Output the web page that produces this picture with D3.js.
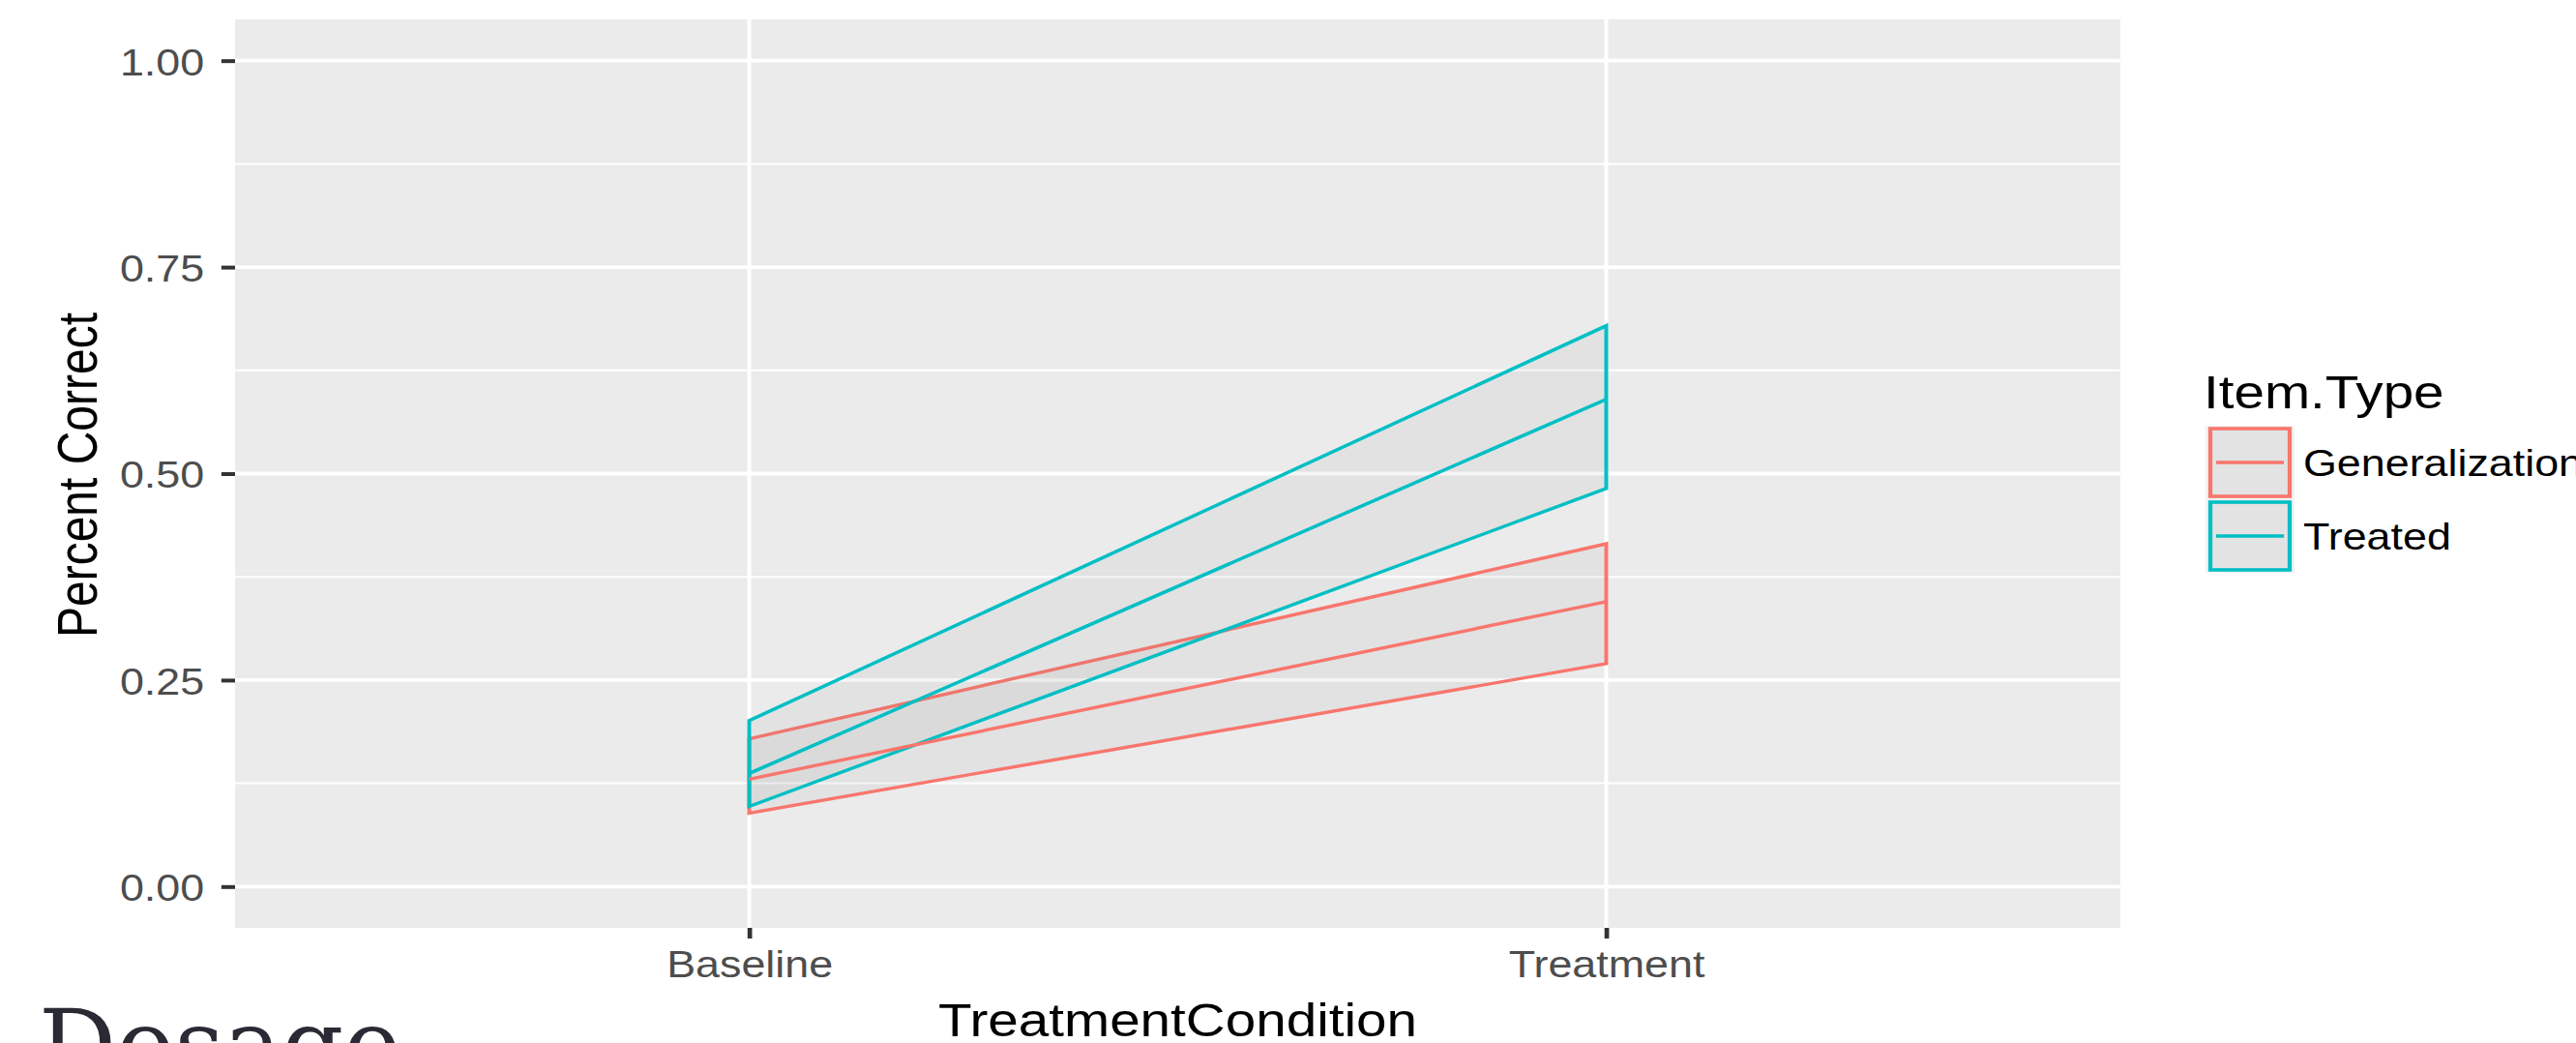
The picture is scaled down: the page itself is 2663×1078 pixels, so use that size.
<!DOCTYPE html>
<head>
  <meta charset="utf-8">
<style>
body{
  margin: 0;
  background-color: white;
}
text{
  font-family: "Liberation Sans", Arial, sans-serif;
}
</style>
</head>
<body>
</body>

<script src="https://d3js.org/d3.v7.min.js"></script>
<script>

// data
var conditions = ["Baseline", "Treatment"];
var itemTypes = ["Generalization", "Treated"];
var genMean  = [0.130, 0.345];
var genLower = [0.089, 0.270];
var genUpper = [0.179, 0.415];
var treMean  = [0.137, 0.590];
var treLower = [0.097, 0.482];
var treUpper = [0.201, 0.679];
var yTicks = [0, 0.25, 0.5, 0.75, 1];
var yMinor = [0.125, 0.375, 0.625, 0.875];
var colors = ["#F8766D", "#00BFC4"];

var W = 2663, H = 1078;
// the original plot image was stretched sideways a bit
var SX = 1.18;
var nx = v => v / SX;

var svg = d3.select("body").append("svg")
    .attr("width", W)
    .attr("height", H);

var g = svg.append("g").attr("transform", `scale(${SX},1)`);

var panel = {left: nx(243), right: nx(2192), top: 20, bottom: 959};

var x = d3.scalePoint()
    .domain(conditions)
    .range([panel.left, panel.right])
    .padding(0.6);

var y = d3.scaleLinear()
    .domain([-0.05, 1.05])
    .range([panel.bottom, panel.top]);

// panel
g.append("rect")
  .attr("x", panel.left)
  .attr("y", panel.top)
  .attr("width", panel.right - panel.left)
  .attr("height", panel.bottom - panel.top)
  .attr("fill", "#EBEBEB");

g.selectAll(".minor").data(yMinor).enter().append("line")
  .attr("x1", panel.left).attr("x2", panel.right)
  .attr("y1", d => y(d)).attr("y2", d => y(d))
  .attr("stroke", "white").attr("stroke-width", 2);

g.selectAll(".major").data(yTicks).enter().append("line")
  .attr("x1", panel.left).attr("x2", panel.right)
  .attr("y1", d => y(d)).attr("y2", d => y(d))
  .attr("stroke", "white").attr("stroke-width", 3.8);

g.selectAll(".vmajor").data(conditions).enter().append("line")
  .attr("x1", d => x(d)).attr("x2", d => x(d))
  .attr("y1", panel.top).attr("y2", panel.bottom)
  .attr("stroke", "white").attr("stroke-width", 3.4);

var series = [
  {name: itemTypes[0], color: colors[0], mean: genMean, lower: genLower, upper: genUpper},
  {name: itemTypes[1], color: colors[1], mean: treMean, lower: treLower, upper: treUpper}
];

var area = d3.area()
    .x((d, i) => x(conditions[i]))
    .y0(d => y(d[0]))
    .y1(d => y(d[1]));

var line = d3.line()
    .x((d, i) => x(conditions[i]))
    .y(d => y(d));

series.forEach(s => {
  g.append("path")
    .datum(s.lower.map((v, i) => [v, s.upper[i]]))
    .attr("d", area)
    .attr("fill", "#7f7f7f")
    .attr("fill-opacity", 0.08)
    .attr("stroke", s.color)
    .attr("stroke-width", 3.4)
    .attr("stroke-linejoin", "miter");
});

series.forEach(s => {
  g.append("path")
    .datum(s.mean)
    .attr("d", line)
    .attr("fill", "none")
    .attr("stroke", s.color)
    .attr("stroke-width", 3.4);
});

// axes
var yAxis = d3.axisLeft(y)
    .tickValues(yTicks)
    .tickFormat(d3.format(".2f"))
    .tickSize(12)
    .tickPadding(15);

var yg = g.append("g")
  .attr("transform", `translate(${panel.left},0)`)
  .call(yAxis);
yg.select(".domain").remove();
yg.selectAll(".tick line").attr("stroke", "#333333").attr("stroke-width", 4);
yg.selectAll(".tick text")
  .attr("dy", "0.38em")
  .style("font-size", "38px")
  .style("font-family", "'Liberation Sans', Arial, sans-serif")
  .attr("fill", "#4D4D4D");

var xAxis = d3.axisBottom(x).tickSize(11);

var xg = g.append("g")
  .attr("transform", `translate(0,${panel.bottom})`)
  .call(xAxis);
xg.select(".domain").remove();
xg.selectAll(".tick line").attr("stroke", "#333333").attr("stroke-width", 4);
xg.selectAll(".tick text")
  .attr("y", 51)
  .attr("dy", null)
  .style("font-size", "38px")
  .style("font-family", "'Liberation Sans', Arial, sans-serif")
  .attr("fill", "#4D4D4D");

// axis titles
g.append("text")
  .attr("x", (panel.left + panel.right) / 2)
  .attr("y", 1071)
  .attr("text-anchor", "middle")
  .style("font-size", "48px")
  .attr("fill", "black")
  .text("TreatmentCondition");

g.append("text")
  .attr("transform", `translate(${nx(100)},491) rotate(-90)`)
  .attr("text-anchor", "middle")
  .style("font-size", "48px")
  .attr("fill", "black")
  .text("Percent Correct");

// legend
var legend = g.append("g");

legend.append("text")
  .attr("x", nx(2278))
  .attr("y", 422)
  .style("font-size", "48px")
  .attr("fill", "black")
  .text("Item.Type");

var keyTop = 440, keyH = 76;
var key = legend.selectAll(".key").data(series).enter().append("g")
  .attr("transform", (d, i) => `translate(0,${keyTop + i * keyH})`);

key.append("rect")
  .attr("x", nx(2280)).attr("y", 0)
  .attr("width", nx(92)).attr("height", keyH)
  .attr("fill", "#F2F2F2");

key.append("rect")
  .attr("x", nx(2285)).attr("y", 3)
  .attr("width", nx(82)).attr("height", 70)
  .attr("fill", "#7f7f7f")
  .attr("fill-opacity", 0.12)
  .attr("stroke", d => d.color)
  .attr("stroke-width", 3.6);

key.append("line")
  .attr("x1", nx(2291)).attr("x2", nx(2361))
  .attr("y1", keyH / 2).attr("y2", keyH / 2)
  .attr("stroke", d => d.color)
  .attr("stroke-width", 3.6);

key.append("text")
  .attr("x", nx(2381))
  .attr("y", keyH / 2)
  .attr("dy", "0.36em")
  .style("font-size", "38px")
  .attr("fill", "black")
  .text(d => d.name);

// slide caption under the plot
svg.append("text")
  .attr("x", 40)
  .attr("y", 1114)
  .style("font-family", "'DejaVu Serif', serif")
  .style("font-size", "100px")
  .attr("fill", "#2a2a35")
  .text("Dosage");

</script>
